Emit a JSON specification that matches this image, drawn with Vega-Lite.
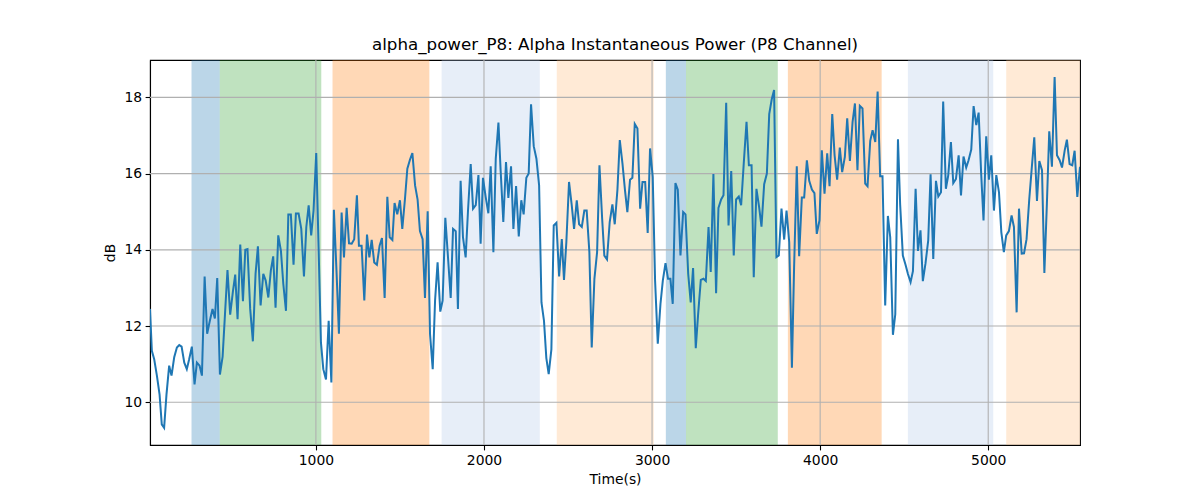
{
  "$schema": "https://vega.github.io/schema/vega-lite/v6.json",
  "width": 930,
  "height": 385,
  "autosize": {"type": "none"},
  "padding": {"left": 150, "top": 60, "right": 120, "bottom": 55},
  "background": "white",
  "config": {
    "view": {"stroke": "black", "strokeWidth": 1.1},
    "font": "DejaVu Sans",
    "axis": {
      "grid": false,
      "domainColor": "black",
      "domainWidth": 1.1,
      "tickColor": "black",
      "tickWidth": 1.1,
      "tickSize": 4.9,
      "labelPadding": 3.5,
      "labelFont": "DejaVu Sans",
      "labelFontSize": 13.9,
      "labelColor": "black",
      "titleFont": "DejaVu Sans",
      "titleFontSize": 13.9,
      "titleFontWeight": "normal",
      "titleColor": "black"
    }
  },
  "title": {
    "text": "alpha_power_P8: Alpha Instantaneous Power (P8 Channel)",
    "font": "DejaVu Sans",
    "fontSize": 16.7,
    "fontWeight": "normal",
    "color": "black",
    "offset": 6
  },
  "datasets": {
    "bands": [
      {"start": 260, "end": 428, "phase": "blue"},
      {"start": 428, "end": 1032, "phase": "green"},
      {"start": 1099, "end": 1675, "phase": "orange"},
      {"start": 1748, "end": 2332, "phase": "lightblue"},
      {"start": 2433, "end": 3010, "phase": "lightorange"},
      {"start": 3082, "end": 3202, "phase": "blue"},
      {"start": 3202, "end": 3748, "phase": "green"},
      {"start": 3808, "end": 4366, "phase": "orange"},
      {"start": 4522, "end": 5030, "phase": "lightblue"},
      {"start": 5107, "end": 5546, "phase": "lightorange"}
    ],
    "xgrid": [{"v": 1000}, {"v": 2000}, {"v": 3000}, {"v": 4000}, {"v": 5000}],
    "ygrid": [{"v": 10}, {"v": 12}, {"v": 14}, {"v": 16}, {"v": 18}],
    "series": [
      {"t":13,"dB":12.45},{"t":24,"dB":11.35},{"t":38,"dB":11.13},{"t":54,"dB":10.7},{"t":70,"dB":10.2},{"t":83,"dB":9.42},{"t":97,"dB":9.33},{"t":111,"dB":10.2},{"t":127,"dB":10.96},{"t":141,"dB":10.7},{"t":157,"dB":11.18},{"t":173,"dB":11.44},{"t":187,"dB":11.5},{"t":201,"dB":11.46},{"t":217,"dB":11.04},{"t":232,"dB":10.87},{"t":246,"dB":11.13},{"t":262,"dB":11.46},{"t":278,"dB":10.47},{"t":292,"dB":11.04},{"t":308,"dB":10.96},{"t":322,"dB":10.7},{"t":338,"dB":13.3},{"t":353,"dB":11.8},{"t":369,"dB":12.14},{"t":385,"dB":12.45},{"t":399,"dB":12.2},{"t":413,"dB":13.26},{"t":429,"dB":10.73},{"t":445,"dB":11.2},{"t":459,"dB":12.3},{"t":474,"dB":13.47},{"t":490,"dB":12.3},{"t":506,"dB":12.9},{"t":520,"dB":13.35},{"t":534,"dB":12.18},{"t":550,"dB":14.14},{"t":566,"dB":12.65},{"t":580,"dB":14.0},{"t":593,"dB":14.02},{"t":609,"dB":12.45},{"t":625,"dB":11.6},
      {"t":641,"dB":13.37},{"t":655,"dB":14.09},{"t":671,"dB":12.54},{"t":687,"dB":13.37},{"t":701,"dB":13.2},{"t":717,"dB":12.75},{"t":732,"dB":13.46},{"t":746,"dB":13.83},{"t":760,"dB":12.48},{"t":776,"dB":14.38},{"t":792,"dB":13.97},{"t":806,"dB":13.11},{"t":822,"dB":12.4},{"t":836,"dB":14.93},{"t":851,"dB":14.93},{"t":867,"dB":13.61},{"t":881,"dB":14.95},{"t":897,"dB":14.95},{"t":913,"dB":14.55},{"t":929,"dB":13.3},{"t":943,"dB":14.6},{"t":957,"dB":15.17},{"t":972,"dB":14.38},{"t":986,"dB":15.03},{"t":1002,"dB":16.54},{"t":1016,"dB":14.07},{"t":1030,"dB":11.57},{"t":1044,"dB":10.87},{"t":1060,"dB":10.6},{"t":1076,"dB":12.14},{"t":1092,"dB":10.52},{"t":1107,"dB":15.05},{"t":1123,"dB":13.4},{"t":1137,"dB":11.8},{"t":1153,"dB":14.98},{"t":1167,"dB":13.8},{"t":1183,"dB":15.1},{"t":1197,"dB":14.17},{"t":1213,"dB":14.16},{"t":1228,"dB":14.28},{"t":1244,"dB":15.43},
      {"t":1256,"dB":14.11},{"t":1272,"dB":14.11},{"t":1288,"dB":12.67},{"t":1304,"dB":14.4},{"t":1318,"dB":13.8},{"t":1332,"dB":14.26},{"t":1347,"dB":13.67},{"t":1363,"dB":13.61},{"t":1379,"dB":14.11},{"t":1393,"dB":14.31},{"t":1409,"dB":12.74},{"t":1425,"dB":15.39},{"t":1439,"dB":14.33},{"t":1455,"dB":14.26},{"t":1468,"dB":15.23},{"t":1484,"dB":14.93},{"t":1500,"dB":15.3},{"t":1514,"dB":14.55},{"t":1530,"dB":15.34},{"t":1544,"dB":16.13},{"t":1560,"dB":16.37},{"t":1574,"dB":16.54},{"t":1590,"dB":15.69},{"t":1605,"dB":15.32},{"t":1619,"dB":14.49},{"t":1635,"dB":14.28},{"t":1649,"dB":12.74},{"t":1665,"dB":15.01},{"t":1679,"dB":11.79},{"t":1695,"dB":10.87},{"t":1709,"dB":12.67},{"t":1724,"dB":13.67},{"t":1740,"dB":12.38},{"t":1754,"dB":12.67},{"t":1770,"dB":14.84},{"t":1786,"dB":13.8},{"t":1802,"dB":12.74},{"t":1816,"dB":14.55},{"t":1832,"dB":14.49},{"t":1845,"dB":12.45},{"t":1861,"dB":15.81},
      {"t":1875,"dB":14.33},{"t":1891,"dB":13.8},{"t":1905,"dB":15.03},{"t":1921,"dB":16.25},{"t":1935,"dB":15.08},{"t":1951,"dB":15.17},{"t":1967,"dB":15.96},{"t":1980,"dB":14.16},{"t":1994,"dB":15.89},{"t":2010,"dB":15.39},{"t":2026,"dB":14.96},{"t":2040,"dB":16.19},{"t":2056,"dB":13.94},{"t":2070,"dB":16.39},{"t":2086,"dB":17.34},{"t":2099,"dB":16.09},{"t":2115,"dB":14.73},{"t":2131,"dB":16.3},{"t":2145,"dB":15.36},{"t":2161,"dB":16.19},{"t":2175,"dB":14.55},{"t":2191,"dB":15.67},{"t":2207,"dB":14.35},{"t":2222,"dB":15.3},{"t":2236,"dB":14.93},{"t":2252,"dB":15.89},{"t":2266,"dB":16.0},{"t":2280,"dB":17.82},{"t":2296,"dB":16.72},{"t":2312,"dB":16.39},{"t":2328,"dB":15.69},{"t":2342,"dB":12.62},{"t":2357,"dB":12.14},{"t":2371,"dB":11.16},{"t":2385,"dB":10.74},{"t":2401,"dB":11.39},{"t":2415,"dB":14.64},{"t":2431,"dB":14.71},{"t":2447,"dB":13.3},{"t":2463,"dB":14.28},{"t":2476,"dB":13.21},
      {"t":2490,"dB":14.2},{"t":2506,"dB":15.78},{"t":2522,"dB":15.17},{"t":2536,"dB":14.55},{"t":2552,"dB":15.3},{"t":2566,"dB":14.67},{"t":2582,"dB":14.6},{"t":2597,"dB":15.03},{"t":2611,"dB":15.03},{"t":2627,"dB":13.94},{"t":2641,"dB":11.44},{"t":2657,"dB":13.24},{"t":2673,"dB":13.94},{"t":2687,"dB":16.22},{"t":2703,"dB":14.82},{"t":2716,"dB":13.85},{"t":2732,"dB":13.75},{"t":2748,"dB":14.73},{"t":2764,"dB":15.19},{"t":2778,"dB":14.67},{"t":2794,"dB":15.58},{"t":2808,"dB":16.88},{"t":2824,"dB":16.26},{"t":2839,"dB":15.56},{"t":2853,"dB":14.99},{"t":2869,"dB":15.84},{"t":2883,"dB":15.89},{"t":2897,"dB":17.3},{"t":2913,"dB":17.18},{"t":2929,"dB":15.08},{"t":2943,"dB":15.78},{"t":2959,"dB":15.78},{"t":2974,"dB":14.44},{"t":2988,"dB":16.66},{"t":3004,"dB":15.91},{"t":3018,"dB":13.19},{"t":3034,"dB":11.54},{"t":3050,"dB":12.58},{"t":3064,"dB":13.19},{"t":3080,"dB":13.65},{"t":3095,"dB":13.24},
      {"t":3109,"dB":13.24},{"t":3123,"dB":12.58},{"t":3139,"dB":15.75},{"t":3153,"dB":15.58},{"t":3169,"dB":13.85},{"t":3185,"dB":14.99},{"t":3199,"dB":14.93},{"t":3215,"dB":13.37},{"t":3230,"dB":12.62},{"t":3244,"dB":13.52},{"t":3260,"dB":11.42},{"t":3274,"dB":12.31},{"t":3290,"dB":13.21},{"t":3306,"dB":13.24},{"t":3320,"dB":13.18},{"t":3336,"dB":14.6},{"t":3349,"dB":13.42},{"t":3365,"dB":15.99},{"t":3381,"dB":12.86},{"t":3395,"dB":15.1},{"t":3411,"dB":15.32},{"t":3425,"dB":15.43},{"t":3441,"dB":17.86},{"t":3455,"dB":14.64},{"t":3471,"dB":16.07},{"t":3486,"dB":13.85},{"t":3500,"dB":15.32},{"t":3516,"dB":15.4},{"t":3530,"dB":15.17},{"t":3546,"dB":16.3},{"t":3562,"dB":17.36},{"t":3576,"dB":16.22},{"t":3592,"dB":16.22},{"t":3605,"dB":13.28},{"t":3621,"dB":15.6},{"t":3637,"dB":15.12},{"t":3651,"dB":14.61},{"t":3667,"dB":15.72},{"t":3683,"dB":16.0},{"t":3697,"dB":17.56},{"t":3712,"dB":17.95},{"t":3726,"dB":18.19},
      {"t":3740,"dB":13.81},{"t":3754,"dB":13.85},{"t":3770,"dB":15.08},{"t":3786,"dB":14.27},{"t":3800,"dB":15.03},{"t":3816,"dB":14.2},{"t":3832,"dB":10.91},{"t":3845,"dB":13.54},{"t":3861,"dB":16.19},{"t":3875,"dB":13.83},{"t":3891,"dB":15.37},{"t":3905,"dB":15.37},{"t":3921,"dB":16.35},{"t":3935,"dB":15.81},{"t":3951,"dB":15.58},{"t":3966,"dB":15.49},{"t":3980,"dB":14.42},{"t":3996,"dB":14.77},{"t":4010,"dB":16.61},{"t":4026,"dB":15.47},{"t":4042,"dB":16.53},{"t":4056,"dB":15.67},{"t":4072,"dB":17.56},{"t":4086,"dB":16.48},{"t":4101,"dB":15.84},{"t":4117,"dB":16.68},{"t":4131,"dB":16.04},{"t":4147,"dB":16.44},{"t":4161,"dB":17.45},{"t":4177,"dB":16.33},{"t":4193,"dB":17.36},{"t":4207,"dB":17.84},{"t":4222,"dB":16.09},{"t":4236,"dB":17.78},{"t":4252,"dB":17.71},{"t":4268,"dB":15.74},{"t":4282,"dB":15.67},{"t":4298,"dB":16.86},{"t":4312,"dB":17.14},{"t":4328,"dB":16.83},{"t":4342,"dB":18.15},
      {"t":4357,"dB":15.93},{"t":4371,"dB":15.93},{"t":4387,"dB":12.54},{"t":4403,"dB":14.89},{"t":4417,"dB":14.33},{"t":4433,"dB":11.77},{"t":4447,"dB":12.31},{"t":4463,"dB":16.9},{"t":4476,"dB":15.19},{"t":4492,"dB":13.85},{"t":4508,"dB":13.61},{"t":4522,"dB":13.37},{"t":4538,"dB":13.15},{"t":4552,"dB":13.44},{"t":4568,"dB":15.6},{"t":4582,"dB":13.97},{"t":4597,"dB":14.51},{"t":4611,"dB":13.18},{"t":4627,"dB":13.65},{"t":4643,"dB":14.25},{"t":4657,"dB":15.98},{"t":4673,"dB":13.76},{"t":4689,"dB":15.81},{"t":4703,"dB":15.4},{"t":4719,"dB":15.51},{"t":4732,"dB":17.89},{"t":4748,"dB":15.6},{"t":4762,"dB":15.95},{"t":4778,"dB":16.83},{"t":4792,"dB":15.75},{"t":4808,"dB":15.86},{"t":4824,"dB":16.48},{"t":4838,"dB":15.43},{"t":4853,"dB":16.45},{"t":4869,"dB":16.16},{"t":4883,"dB":16.35},{"t":4899,"dB":16.63},{"t":4913,"dB":17.77},{"t":4929,"dB":17.27},{"t":4943,"dB":17.6},{"t":4958,"dB":16.0},
      {"t":4972,"dB":14.77},{"t":4988,"dB":16.98},{"t":5004,"dB":15.84},{"t":5018,"dB":16.48},{"t":5034,"dB":15.03},{"t":5048,"dB":15.96},{"t":5064,"dB":15.51},{"t":5078,"dB":14.46},{"t":5093,"dB":13.94},{"t":5107,"dB":14.38},{"t":5123,"dB":14.49},{"t":5139,"dB":14.9},{"t":5153,"dB":14.6},{"t":5169,"dB":12.36},{"t":5183,"dB":15.08},{"t":5199,"dB":13.9},{"t":5213,"dB":13.91},{"t":5228,"dB":14.28},{"t":5244,"dB":15.32},{"t":5258,"dB":16.09},{"t":5274,"dB":16.95},{"t":5290,"dB":15.28},{"t":5304,"dB":16.33},{"t":5320,"dB":16.09},{"t":5334,"dB":13.39},{"t":5349,"dB":15.21},{"t":5363,"dB":17.11},{"t":5379,"dB":16.18},{"t":5395,"dB":18.53},{"t":5409,"dB":16.48},{"t":5425,"dB":16.35},{"t":5439,"dB":16.16},{"t":5455,"dB":16.61},{"t":5468,"dB":16.89},{"t":5484,"dB":16.25},{"t":5500,"dB":16.22},{"t":5514,"dB":16.6},{"t":5530,"dB":15.39},{"t":5546,"dB":16.18}
    ]
  },
  "layer": [
    {
      "data": {"name": "bands"},
      "mark": {"type": "rect", "fillOpacity": 0.3, "strokeOpacity": 0.3, "strokeWidth": 1.4},
      "encoding": {
        "x": {"field": "start", "type": "quantitative", "scale": {"domain": [13, 5546], "nice": false, "zero": false}, "axis": {"values": [1000, 2000, 3000, 4000, 5000], "title": "Time(s)", "titlePadding": 5, "format": "d"}},
        "x2": {"field": "end"},
        "color": {"field": "phase", "type": "nominal", "legend": null, "scale": {"domain": ["blue", "green", "orange", "lightblue", "lightorange"], "range": ["#1f77b4", "#2ca02c", "#ff7f0e", "#aec7e8", "#ffbb78"]}}
      }
    },
    {
      "data": {"name": "xgrid"},
      "mark": {"type": "rule", "color": "#b0b0b0", "strokeWidth": 1.1},
      "encoding": {"x": {"field": "v", "type": "quantitative"}}
    },
    {
      "data": {"name": "ygrid"},
      "mark": {"type": "rule", "color": "#b0b0b0", "strokeWidth": 1.1},
      "encoding": {"y": {"field": "v", "type": "quantitative", "scale": {"domain": [8.88, 18.98], "nice": false, "zero": false}, "axis": {"values": [10, 12, 14, 16, 18], "title": "dB", "titlePadding": 6}}}
    },
    {
      "data": {"name": "series"},
      "mark": {"type": "line", "color": "#1f77b4", "strokeWidth": 2, "clip": true},
      "encoding": {
        "x": {"field": "t", "type": "quantitative"},
        "y": {"field": "dB", "type": "quantitative"}
      }
    }
  ]
}
